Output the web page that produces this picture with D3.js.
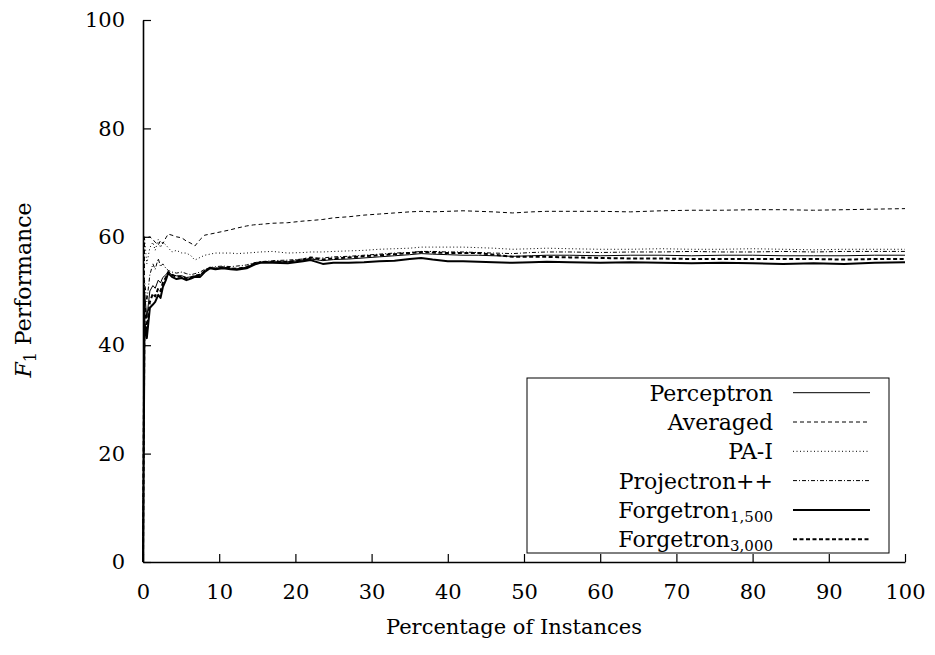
<!DOCTYPE html>
<html>
<head>
<meta charset="utf-8">
<script src="https://cdn.jsdelivr.net/npm/d3@7"></script>
<style>
  body { margin: 0; background: #fff; }
  svg text { font-family: "DejaVu Serif", "Liberation Serif", serif; }
</style>
</head>
<body>
<svg width="935" height="655"></svg>
<script>
// percentage of instances seen
const xs = [0, 0.2, 0.5, 0.9, 1.3, 1.6, 2.0, 2.3, 2.6, 3.0, 3.3, 3.8, 4.4, 5.1, 5.7, 6.3, 6.8, 7.5, 8.1, 8.8,
  9.5, 10.5, 11.5, 12.3, 13.6, 14.5, 15.4, 17, 19, 21, 22, 23.6, 25, 27, 29, 31, 33, 35, 36.5, 38,
  40, 42, 44, 46, 48.5, 51, 53, 56, 60, 64, 68, 72, 76, 80, 84, 88, 92, 96, 100];

const perceptron = [0, 50, 45, 50, 51, 50.5, 52, 51.5, 52.5, 53, 53.5, 53, 52.8, 52.8, 52.5, 52.6, 52.8, 53, 53.8, 54.3,
  54.2, 54.4, 54.2, 54.1, 54.4, 55, 55.3, 55.4, 55.4, 55.7, 55.9, 55.6, 55.8, 55.9, 56.1, 56.3, 56.5, 56.7, 56.9, 56.8,
  56.7, 56.6, 56.6, 56.5, 56.4, 56.5, 56.6, 56.6, 56.5, 56.6, 56.6, 56.5, 56.6, 56.6, 56.5, 56.5, 56.5, 56.6, 56.6];

const averaged = [0, 60, 59.8, 60, 59.5, 59, 58.5, 59.3, 58.7, 59.8, 60.5, 60.3, 60, 59.8, 59.2, 58.8, 58.3, 59.5, 60.3, 60.5,
  60.7, 61, 61.3, 61.6, 62, 62.2, 62.3, 62.5, 62.6, 62.9, 63, 63.2, 63.5, 63.7, 64, 64.2, 64.4, 64.6, 64.7, 64.6,
  64.7, 64.8, 64.7, 64.6, 64.4, 64.6, 64.7, 64.7, 64.7, 64.6, 64.8, 64.9, 64.9, 65, 65, 64.9, 65, 65.1, 65.2];

const paI = [0, 59.8, 55, 58, 59, 57.5, 59.5, 58, 59, 58.5, 58, 57.2, 57.5, 57, 57, 56.5, 55.7, 56.2, 56.6, 56.8,
  57, 57, 57, 56.9, 57, 57.1, 57.2, 57.3, 57, 57.1, 57.2, 57.2, 57.3, 57.4, 57.5, 57.7, 57.8, 57.9, 58.1, 58.1,
  58.1, 58.1, 58, 57.9, 57.7, 57.8, 57.9, 57.8, 57.7, 57.7, 57.8, 57.7, 57.7, 57.8, 57.7, 57.6, 57.7, 57.7, 57.7];

const projectron = [0, 52, 48, 53, 55, 54, 56, 54.5, 55, 54.2, 53.8, 53.5, 53.3, 53.5, 53.2, 53, 53.2, 53.5, 54, 54.3,
  54.5, 54.6, 54.5, 54.6, 54.8, 55.2, 55.4, 55.6, 55.7, 55.9, 56, 56.1, 56.3, 56.4, 56.6, 56.8, 57, 57.1, 57.3, 57.3,
  57.2, 57.2, 57.1, 57, 56.9, 57.1, 57.2, 57.2, 57.1, 57.2, 57.2, 57.3, 57.2, 57.2, 57.3, 57.2, 57.3, 57.3, 57.3];

const forgetron1500 = [0, 44, 41.3, 46.9, 47.5, 48, 49.3, 48.7, 50.7, 52, 53.3, 52.6, 52.2, 52.4, 52, 52.3, 52.6, 52.6, 53.5, 54.2,
  54, 54.2, 54, 53.9, 54.2, 54.8, 55.2, 55.2, 55.1, 55.5, 55.7, 55, 55.2, 55.2, 55.3, 55.5, 55.6, 55.9, 56.1, 55.8,
  55.5, 55.5, 55.4, 55.3, 55.2, 55.3, 55.4, 55.3, 55.2, 55.3, 55.2, 55.1, 55.2, 55.1, 55, 55.1, 55, 55.2, 55.3];

const forgetron3000 = [0, 48, 43, 48, 49.5, 49, 50.5, 50, 51.5, 52.5, 53.5, 53, 52.6, 52.7, 52.3, 52.5, 52.8, 53, 53.7, 54.3,
  54.1, 54.4, 54.2, 54.1, 54.4, 55, 55.3, 55.4, 55.4, 55.8, 56.2, 55.8, 56, 56.2, 56.4, 56.6, 56.8, 57, 57.2, 57.1,
  57, 57, 57, 56.7, 56.3, 56.3, 56.3, 56.2, 56.1, 56, 56, 55.9, 55.9, 55.9, 55.9, 55.9, 55.8, 55.9, 55.9];

const xTicks = [0, 10, 20, 30, 40, 50, 60, 70, 80, 90, 100];
const yTicks = [0, 20, 40, 60, 80, 100];

const series = [
  { name: "Perceptron", values: perceptron, width: 1, dash: null },
  { name: "Averaged", values: averaged, width: 1, dash: "4,3" },
  { name: "PA-I", values: paI, width: 1, dash: "1,2.5" },
  { name: "Projectron++", values: projectron, width: 1, dash: "4,2,1,2" },
  { name: "Forgetron", sub: "1,500", values: forgetron1500, width: 2, dash: null },
  { name: "Forgetron", sub: "3,000", values: forgetron3000, width: 2, dash: "4,2.5" }
];

const FS = 21;

const svg = d3.select("svg");
const margin = { left: 143, top: 20, right: 30, bottom: 93 };
const W = 935, H = 655;

const x = d3.scaleLinear().domain([0, 100]).range([margin.left, W - margin.right]);
const y = d3.scaleLinear().domain([0, 100]).range([H - margin.bottom, margin.top]);

// axes, ticks point inward
const xAxis = svg.append("g")
  .attr("transform", `translate(0,${y(0)})`)
  .call(d3.axisBottom(x).tickValues(xTicks).tickSize(-8).tickSizeOuter(0).tickPadding(22));
const yAxis = svg.append("g")
  .attr("transform", `translate(${x(0)},0)`)
  .call(d3.axisLeft(y).tickValues(yTicks).tickSize(-8).tickSizeOuter(0).tickPadding(18));

[xAxis, yAxis].forEach(g => {
  g.attr("font-size", FS);
  g.select(".domain").attr("stroke-width", 1.6);
  g.selectAll(".tick line").attr("stroke-width", 1.2);
  g.selectAll("text").attr("fill", "#000");
});

// lines
const line = d3.line()
  .x((d, i) => x(xs[i]))
  .y(d => y(d));

series.forEach(s => {
  svg.append("path")
    .attr("d", line(s.values))
    .attr("fill", "none")
    .attr("stroke", "#000")
    .attr("stroke-width", s.width)
    .attr("stroke-dasharray", s.dash)
    .attr("stroke-linejoin", "round");
});

// axis titles
svg.append("text")
  .attr("x", 514).attr("y", 634)
  .attr("text-anchor", "middle")
  .attr("font-size", FS)
  .text("Percentage of Instances");

const yt = svg.append("text")
  .attr("transform", "translate(31,290) rotate(-90)")
  .attr("text-anchor", "middle")
  .attr("font-size", 22);
yt.append("tspan").attr("font-style", "italic").text("F");
yt.append("tspan").attr("font-size", 16).attr("dy", 5).text("1");
yt.append("tspan").attr("dy", -5).text(" Performance");

// legend
const legend = svg.append("g");
legend.append("rect")
  .attr("x", 527).attr("y", 378)
  .attr("width", 362).attr("height", 175)
  .attr("fill", "#fff")
  .attr("stroke", "#000")
  .attr("stroke-width", 1);

series.forEach((s, i) => {
  const ly = 392.7 + i * 29.3;
  const t = legend.append("text")
    .attr("x", 773).attr("y", ly + 8)
    .attr("text-anchor", "end")
    .attr("font-size", 22);
  t.append("tspan").text(s.name);
  if (s.sub) {
    t.append("tspan").attr("font-size", 15).attr("dy", 4).text(s.sub);
  }
  legend.append("line")
    .attr("x1", 793).attr("x2", 870)
    .attr("y1", ly).attr("y2", ly)
    .attr("stroke", "#000")
    .attr("stroke-width", s.width)
    .attr("stroke-dasharray", s.dash);
});
</script>
</body>
</html>
